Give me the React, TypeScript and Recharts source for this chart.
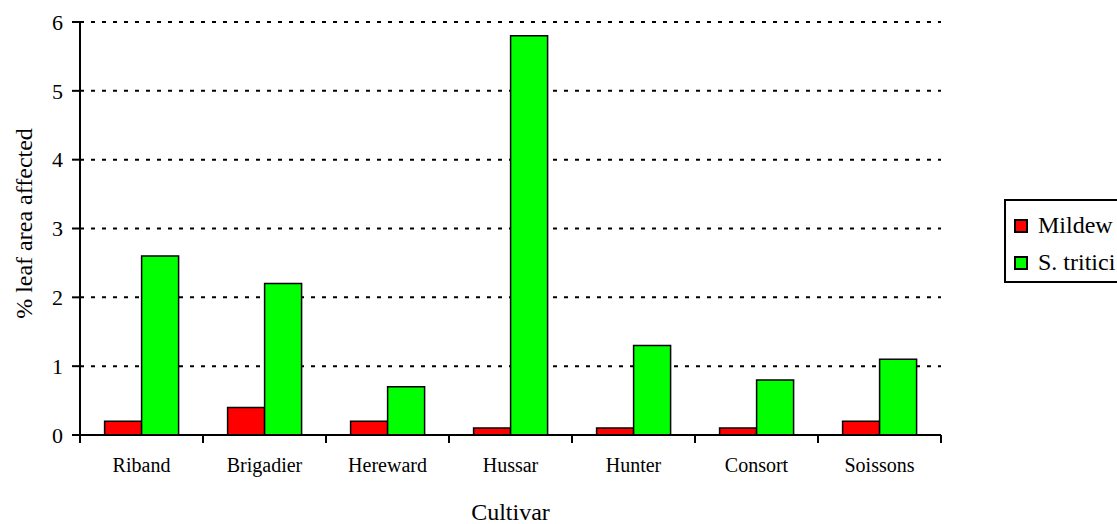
import React from "react";
import {
  BarChart, Bar, XAxis, YAxis, CartesianGrid, Label,
} from "recharts";

const cultivars = ["Riband", "Brigadier", "Hereward", "Hussar", "Hunter", "Consort", "Soissons"];
const mildew = [0.2, 0.4, 0.2, 0.1, 0.1, 0.1, 0.2];
const tritici = [2.6, 2.2, 0.7, 5.8, 1.3, 0.8, 1.1];
const yTicks = [0, 1, 2, 3, 4, 5, 6];

const series = [
  { key: "mildew", name: "Mildew", color: "#ff0000" },
  { key: "tritici", name: "S. tritici", color: "#00ff00" },
];

const data = cultivars.map((name, i) => ({ name, mildew: mildew[i], tritici: tritici[i] }));

const FONT = "Liberation Serif, Times New Roman, serif";

// category label plus Excel-style tick marks on the band edges
const CultivarTick = (props: any) => {
  const { x, y, payload, index, width, visibleTicksCount } = props;
  const band = width / visibleTicksCount;
  const left = x - band / 2;
  const right = x + band / 2;
  const last = index === visibleTicksCount - 1;
  return (
    <g>
      <line x1={left} x2={left} y1={y} y2={y + 8} stroke="#000" strokeWidth={2} />
      {last && <line x1={right} x2={right} y1={y} y2={y + 8} stroke="#000" strokeWidth={2} />}
      <text x={x} y={y + 23} dy="0.71em" textAnchor="middle" fontSize={20} fill="#000" fontFamily={FONT}>
        {payload.value}
      </text>
    </g>
  );
};

export default function App() {
  return (
    <div style={{ position: "absolute", left: 0, top: 0, width: 1117, height: 524, background: "#fff", fontFamily: FONT }}>
      <BarChart
        width={1117}
        height={524}
        data={data}
        margin={{ top: 22, right: 176, bottom: 0, left: 0 }}
        barCategoryGap="20%"
        barGap={0}
        style={{ fontFamily: FONT }}
      >
        <CartesianGrid
          horizontal
          vertical={false}
          stroke="#000"
          strokeWidth={2}
          strokeDasharray="4 7"
        />
        <XAxis
          dataKey="name"
          axisLine={{ stroke: "#000", strokeWidth: 2 }}
          tickLine={false}
          tickSize={0}
          tickMargin={0}
          interval={0}
          height={89}
          tick={<CultivarTick />}
        >
          <Label value="Cultivar" position="insideBottom" offset={4} fontFamily={FONT} style={{ fontSize: 24, fill: "#000", fontFamily: FONT }} />
        </XAxis>
        <YAxis
          width={80}
          domain={[0, 6]}
          ticks={yTicks}
          interval={0}
          axisLine={{ stroke: "#000", strokeWidth: 2 }}
          tickLine={{ stroke: "#000", strokeWidth: 2 }}
          tickSize={8}
          tickMargin={9}
          tick={{ fontSize: 22, fill: "#000", fontFamily: FONT }}
        >
          <Label
            value="% leaf area affected"
            angle={-90}
            position="center"
            dx={-17}
            dy={-5}
            fontFamily={FONT}
            style={{ fontSize: 24, fill: "#000", fontFamily: FONT, textAnchor: "middle" }}
          />
        </YAxis>
        {series.map((s) => (
          <Bar
            key={s.key}
            dataKey={s.key}
            name={s.name}
            fill={s.color}
            stroke="#000"
            strokeWidth={1.5}
            isAnimationActive={false}
          />
        ))}
      </BarChart>
      <div
        style={{
          position: "absolute",
          left: 1004,
          top: 199,
          width: 130,
          height: 84,
          boxSizing: "border-box",
          border: "2px solid #000",
          background: "#fff",
          padding: "6px 0 0 8px",
          fontFamily: FONT,
        }}
      >
        {series.map((s) => (
          <div key={s.key} style={{ display: "flex", alignItems: "center", height: 37, fontSize: 24, color: "#000", whiteSpace: "nowrap" }}>
            <span
              style={{
                display: "inline-block",
                width: 14,
                height: 14,
                boxSizing: "border-box",
                border: "2px solid #000",
                background: s.color,
                marginRight: 10,
              }}
            />
            {s.name}
          </div>
        ))}
      </div>
    </div>
  );
}
